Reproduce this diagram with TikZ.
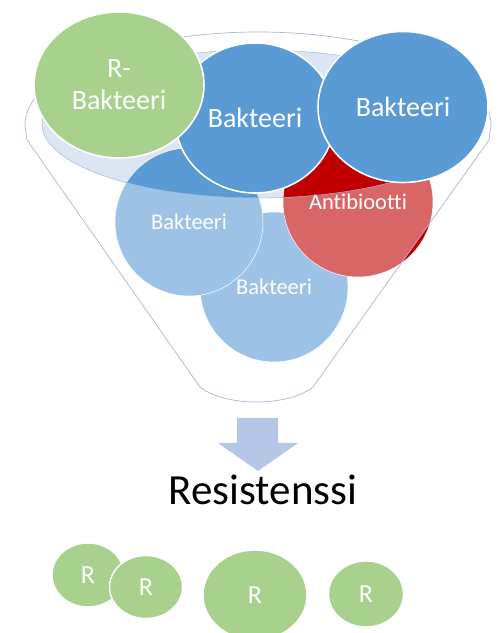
\documentclass[tikz,border=0pt]{standalone}
\usepackage{fontspec}
\setmainfont{Carlito}[Ligatures={NoCommon}]
\usetikzlibrary{shapes.geometric}
\definecolor{bactblue}{HTML}{5B9BD5}
\definecolor{rgreen}{HTML}{A9D18E}
\definecolor{abred}{HTML}{C00000}
\definecolor{rimgrey}{HTML}{DDE5F2}
\definecolor{funnelline}{HTML}{A3B8DA}
\definecolor{arrowblue}{HTML}{B4C7E7}
\tikzset{
	cell/.style={ellipse,draw=white,line width=1.6pt,text=white,inner sep=0pt,align=center},
	lowcell/.style={cell,line width=0.5pt,font=\fontsize{22.5}{27}\selectfont},
	topcell/.style={cell,font=\fontsize{28}{32}\selectfont},
	rcell/.style={cell,fill=rgreen,line width=1.4pt,font=\fontsize{26}{30}\selectfont}
}

\begin{document}
\begin{tikzpicture}[x=1pt,y=1pt]
	\useasboundingbox (0,0) rectangle (500,633);
	
	%FUNNEL BACK
	\fill[rimgrey] (258,509) ellipse [x radius=216,y radius=74];
	
	%CELLS INSIDE
	\node[lowcell,fill=bactblue,minimum width=148,minimum height=150] (low) at (274,346) {Bakteeri};
	\node[lowcell,fill=bactblue,minimum width=148,minimum height=148] (left) at (189,411) {Bakteeri};
	\node[lowcell,fill=abred,minimum width=150,minimum height=150] (anti) at (358,431) {Antibiootti};
	
	%FUNNEL BODY
	\fill[white,fill opacity=0.4,even odd rule] (25,508) arc[start angle=180,end angle=0,x radius=233,y radius=93] -- (489,493) -- (313,246) .. controls (288,226) and (225,226) .. (200,246) -- (27,493) -- cycle (258,509) ellipse [x radius=216,y radius=74];
	\draw[funnelline,line width=0.7pt] (25,508) arc[start angle=180,end angle=0,x radius=233,y radius=93] -- (489,493) -- (313,246) .. controls (288,226) and (225,226) .. (200,246) -- (27,493) -- cycle;
	\draw[funnelline,line width=0.5pt] (258,509) ellipse [x radius=216,y radius=74];
	
	%CELLS ON TOP
	\node[topcell,fill=bactblue,minimum width=160,minimum height=150] (mid) at (255,515) {Bakteeri};
	\node[topcell,fill=rgreen,minimum width=170,minimum height=146] (rbak) at (119,548) {R-\\Bakteeri};
	\node[topcell,fill=bactblue,minimum width=170,minimum height=151] (right) at (403,526) {Bakteeri};
	
	%ARROW
	\fill[arrowblue] (237,215) -- (278,215) -- (278,190) -- (298,190) -- (258,162) -- (218,190) -- (237,190) -- cycle;
	
	%LABELS
	\node[anchor=base,inner sep=0pt,font=\fontsize{43}{50}\selectfont] (res) at (263,128) {Resistenssi};
	
	%RESISTANT CELLS
	\foreach \n/\x/\y/\w/\h in {r1/88/58/72/64, r2/146/46/73/63, r3/255/38/104/90, r4/366/39/75/66}{
		\node[rcell,minimum width=\w,minimum height=\h] (\n) at (\x,\y) {R};
	}
\end{tikzpicture}
\end{document}
